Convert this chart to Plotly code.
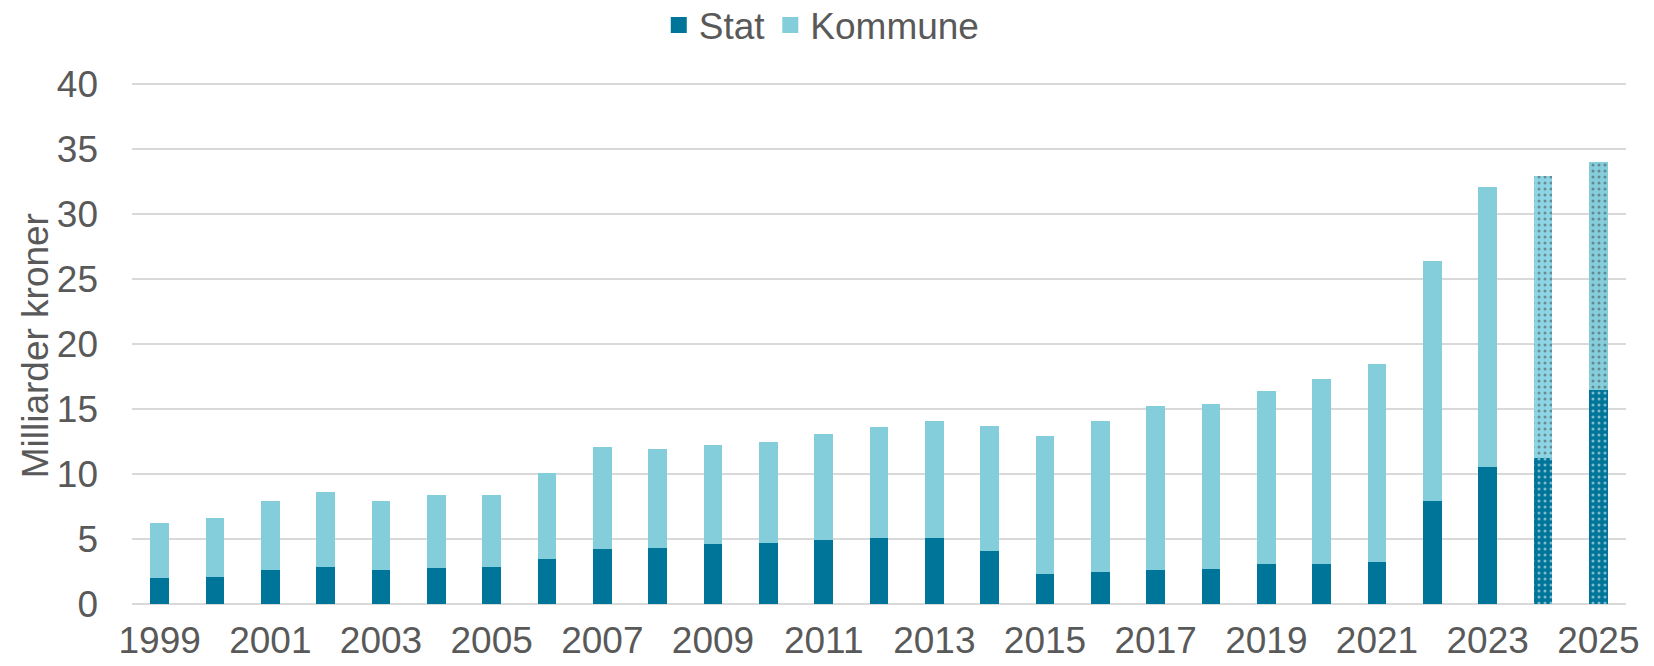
import plotly.graph_objects as go

years = list(range(1999, 2026))
stat = [2.0, 2.1, 2.6, 2.85, 2.6, 2.75, 2.85, 3.5, 4.2, 4.3, 4.6, 4.7, 4.9, 5.1, 5.1, 4.1,
        2.3, 2.45, 2.6, 2.7, 3.1, 3.1, 3.25, 7.95, 10.55, 11.2, 16.5]
total = [6.2, 6.6, 7.9, 8.6, 7.95, 8.4, 8.4, 10.05, 12.1, 11.9, 12.25, 12.5, 13.05, 13.6, 14.05, 13.7,
         12.9, 14.05, 15.2, 15.4, 16.4, 17.3, 18.5, 26.4, 32.05, 32.9, 34.0]
kommune = [round(t - s, 2) for t, s in zip(total, stat)]
projected = [2024, 2025]
series_names = ["Stat", "Kommune"]
y_title = "Milliarder kroner"

STAT_C = "#00759a"
KOMM_C = "#84cddb"
TXT_C = "#595959"
shapes = ["." if y in projected else "" for y in years]
komm_colors = ["#8dd5e5" if y == 2024 else KOMM_C for y in years]

fig = go.Figure()
fig.add_trace(go.Bar(
    x=years, y=stat, name=series_names[0], width=0.34, showlegend=False,
    marker=dict(color=STAT_C, line=dict(width=0),
                pattern=dict(shape=shapes, fillmode="overlay", fgcolor="white",
                             size=6, solidity=0.2)),
))
fig.add_trace(go.Bar(
    x=years, y=kommune, name=series_names[1], width=0.34, showlegend=False,
    marker=dict(color=komm_colors, line=dict(width=0),
                pattern=dict(shape=shapes, fillmode="overlay", fgcolor="white",
                             size=6, solidity=0.2)),
))
# legend entries with larger square swatches
for nm, col in zip(series_names, [STAT_C, KOMM_C]):
    fig.add_trace(go.Scatter(x=[None], y=[None], mode="markers", name=nm,
                             marker=dict(symbol="square", size=16, color=col)))

FS = 37
fig.update_layout(
    barmode="stack",
    width=1654, height=666,
    margin=dict(l=124, r=36, t=70, b=70, autoexpand=False),
    plot_bgcolor="white", paper_bgcolor="white",
    font=dict(family="Liberation Sans, Arial", size=FS, color=TXT_C),
    showlegend=True,
    legend=dict(orientation="h", xref="container", x=0.492, xanchor="center",
                yref="paper", y=1.1, yanchor="middle",
                font=dict(size=FS, color=TXT_C),
                itemsizing="trace",
                traceorder="normal"),
    xaxis=dict(range=[1998.5, 2025.5], tick0=1999, dtick=2, showgrid=False,
               zeroline=False, showline=False, ticks="", ticklabelstandoff=11,
               automargin=False,
               tickfont=dict(size=FS, color=TXT_C)),
    yaxis=dict(range=[0, 40.4615], tickvals=[0, 5, 10, 15, 20, 25, 30, 35, 40],
               showgrid=True, gridcolor="#d9d9d9", gridwidth=2,
               zeroline=True, zerolinecolor="#d9d9d9", zerolinewidth=2,
               ticks="", ticklabelstandoff=33, automargin=False,
               tickfont=dict(size=FS, color=TXT_C)),
    annotations=[dict(text=y_title, textangle=-90, xref="paper", yref="paper",
                      x=-0.0649, y=0.49, xanchor="center", yanchor="middle",
                      showarrow=False, font=dict(size=FS, color=TXT_C))],
)

fig.write_html("out.html")
